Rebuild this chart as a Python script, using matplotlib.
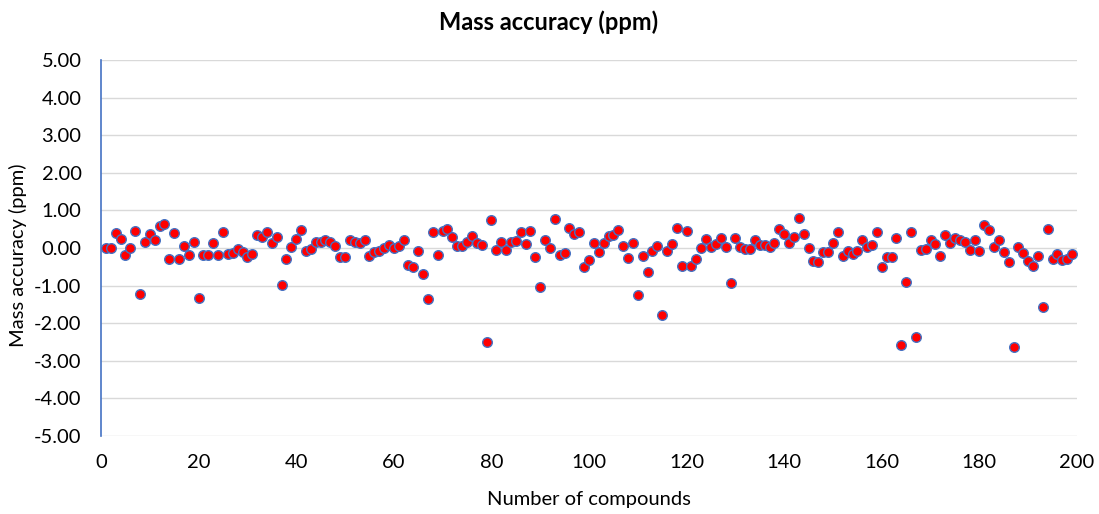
import matplotlib
matplotlib.use("Agg")
import matplotlib.pyplot as plt
import numpy as np

plt.rcParams['font.family'] = ['Lato', 'DejaVu Sans']

compound_no = list(range(1, 200))
mass_accuracy = [
    0.00, 0.00, 0.40, 0.25, -0.18, 0.00, 0.45, -1.22, 0.15, 0.38,
    0.22, 0.58, 0.65, -0.30, 0.40, -0.28, 0.05, -0.18, 0.15, -1.33,
    -0.18, -0.18, 0.12, -0.18, 0.43, -0.15, -0.12, -0.02, -0.10, -0.23,
    -0.15, 0.35, 0.28, 0.42, 0.13, 0.30, -0.98, -0.30, 0.03, 0.25,
    0.47, -0.08, -0.02, 0.15, 0.17, 0.20, 0.17, 0.05, -0.23, -0.23,
    0.22, 0.17, 0.13, 0.22, -0.22, -0.10, -0.07, 0.00, 0.08, 0.00,
    0.05, 0.22, -0.45, -0.50, -0.08, -0.68, -1.36, 0.42, -0.18, 0.44,
    0.50, 0.28, 0.05, 0.05, 0.17, 0.32, 0.13, 0.08, -2.50, 0.74,
    -0.05, 0.15, -0.05, 0.15, 0.18, 0.42, 0.10, 0.44, -0.25, -1.05,
    0.20, 0.00, 0.77, -0.18, -0.13, 0.52, 0.38, 0.42, -0.50, -0.33,
    0.12, -0.10, 0.13, 0.33, 0.35, 0.47, 0.05, -0.27, 0.12, -1.25,
    -0.20, -0.65, -0.07, 0.05, -1.78, -0.08, 0.10, 0.53, -0.48, 0.45,
    -0.47, -0.30, 0.00, 0.23, 0.02, 0.10, 0.26, 0.03, -0.92, 0.26,
    0.02, -0.03, -0.03, 0.22, 0.07, 0.08, 0.02, 0.13, 0.50, 0.38,
    0.12, 0.30, 0.80, 0.38, 0.00, -0.35, -0.38, -0.10, -0.10, 0.13,
    0.43, -0.22, -0.07, -0.15, -0.08, 0.20, 0.02, 0.08, 0.42, -0.50,
    -0.23, -0.23, 0.27, -2.58, -0.90, 0.43, -2.37, -0.05, -0.02, 0.22,
    0.10, -0.22, 0.35, 0.13, 0.27, 0.22, 0.17, -0.05, 0.20, -0.08,
    0.62, 0.47, 0.03, 0.20, -0.10, -0.36, -2.62, 0.03, -0.13, -0.35,
    -0.47, -0.20, -1.57, 0.50, -0.28, -0.15, -0.32, -0.30, -0.15,
]
x_ticks = [0, 20, 40, 60, 80, 100, 120, 140, 160, 180, 200]
y_ticks = [-5, -4, -3, -2, -1, 0, 1, 2, 3, 4, 5]

W, H = 1099, 514
fig = plt.figure(figsize=(W / 100, H / 100), dpi=100)
ax = fig.add_axes([101 / W, 1 - 436 / H, (1077 - 101) / W, (436 - 60) / H])

ax.scatter(compound_no, mass_accuracy, s=48, facecolor='#FF0000',
           edgecolor='#4472C4', linewidth=1.0, zorder=3)

ax.set_xlim(0, 200)
ax.set_ylim(-5, 5)
ax.set_xticks(x_ticks)
ax.set_yticks(y_ticks)
ax.set_yticklabels([f"{v:.2f}" for v in y_ticks])
ax.grid(axis='y', color='#D9D9D9', linewidth=1.0, zorder=0)
ax.grid(axis='x', visible=False)
for side in ['top', 'right', 'bottom']:
    ax.spines[side].set_visible(False)
ax.spines['left'].set_color('#4472C4')
ax.spines['left'].set_linewidth(1.2)
ax.tick_params(axis='both', length=0, labelsize=14.5, colors='#000000')
ax.tick_params(axis='y', pad=14)
ax.tick_params(axis='x', pad=13)

fig.text(549 / W, 1 - 22 / H, "Mass accuracy (ppm)", fontsize=17,
         fontweight='bold', ha='center', va='center')
fig.text(18 / W, 1 - 255 / H, "Mass accuracy (ppm)", fontsize=14.5,
         rotation=90, ha='center', va='center')
fig.text(589 / W, 1 - 500 / H, "Number of compounds", fontsize=14.5,
         ha='center', va='center')

fig.savefig("out.png", dpi=100)
